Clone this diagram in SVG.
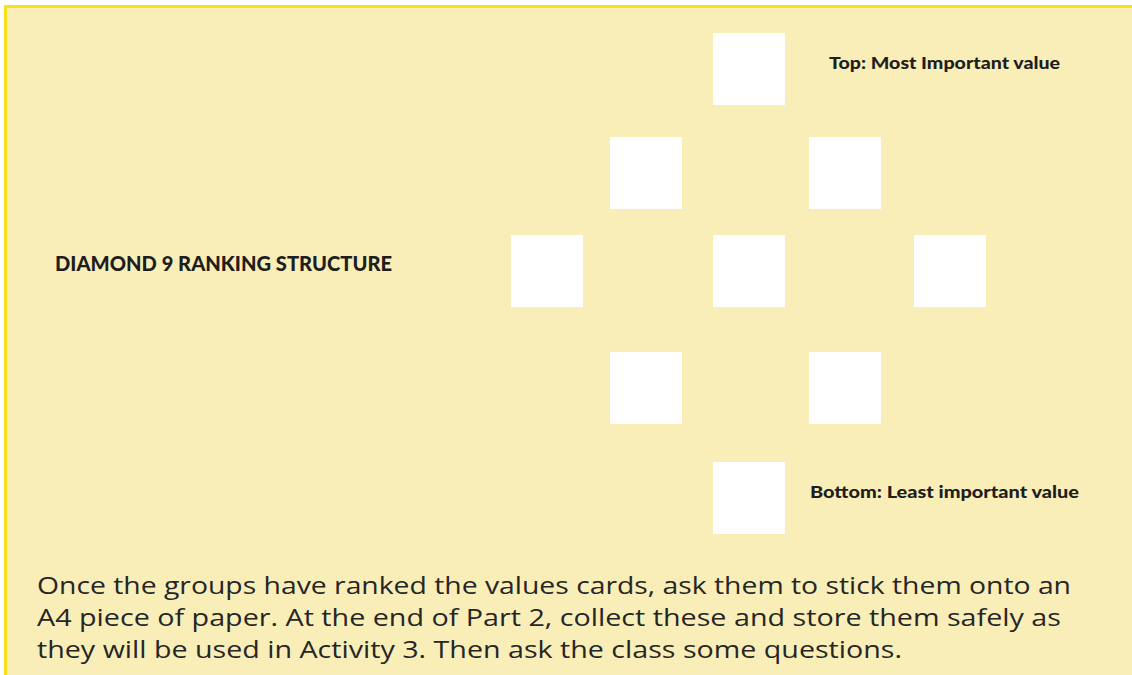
<svg xmlns="http://www.w3.org/2000/svg" width="1132" height="675" viewBox="0 0 1132 675">
<style>
.card{fill:#ffffff}
.lbl{font-family:"Lato","Liberation Sans",sans-serif;font-weight:900;fill:#1e1e1e}
.body{font-family:"Open Sans","Liberation Sans",sans-serif;font-size:24px;font-weight:400;fill:#262626}
</style>
<rect x="0" y="0" width="1132" height="675" fill="#ffffff"/>
<rect x="4" y="5" width="1128" height="670" fill="#FAEEB8"/>
<rect x="4" y="5" width="1128" height="3" fill="#F8E11A"/>
<rect x="4" y="5" width="3" height="670" fill="#F8E11A"/>
<g id="cards">
<rect id="card-top" class="card" x="713" y="33" width="72" height="72"/>
<rect id="card-2a" class="card" x="610" y="137" width="72" height="72"/>
<rect id="card-2b" class="card" x="809" y="137" width="72" height="72"/>
<rect id="card-3a" class="card" x="511" y="235" width="72" height="72"/>
<rect id="card-3b" class="card" x="713" y="235" width="72" height="72"/>
<rect id="card-3c" class="card" x="914" y="235" width="72" height="72"/>
<rect id="card-4a" class="card" x="610" y="352" width="72" height="72"/>
<rect id="card-4b" class="card" x="809" y="352" width="72" height="72"/>
<rect id="card-bottom" class="card" x="713" y="462" width="72" height="72"/>
</g>
<g id="labels">
<text class="lbl" x="829" y="69" font-size="17" textLength="231" lengthAdjust="spacingAndGlyphs">Top: Most Important value</text>
<text class="lbl" x="55" y="271" font-size="20" textLength="337" lengthAdjust="spacingAndGlyphs">DIAMOND 9 RANKING STRUCTURE</text>
<text class="lbl" x="810" y="498" font-size="17" textLength="269" lengthAdjust="spacingAndGlyphs">Bottom: Least important value</text>
</g>
<g id="body-text">
<text class="body" x="37" y="594" textLength="1034" lengthAdjust="spacingAndGlyphs">Once the groups have ranked the values cards, ask them to stick them onto an</text>
<text class="body" x="37" y="626" textLength="1024" lengthAdjust="spacingAndGlyphs">A4 piece of paper. At the end of Part 2, collect these and store them safely as</text>
<text class="body" x="37" y="658" textLength="865" lengthAdjust="spacingAndGlyphs">they will be used in Activity 3. Then ask the class some questions.</text>
</g>
</svg>
